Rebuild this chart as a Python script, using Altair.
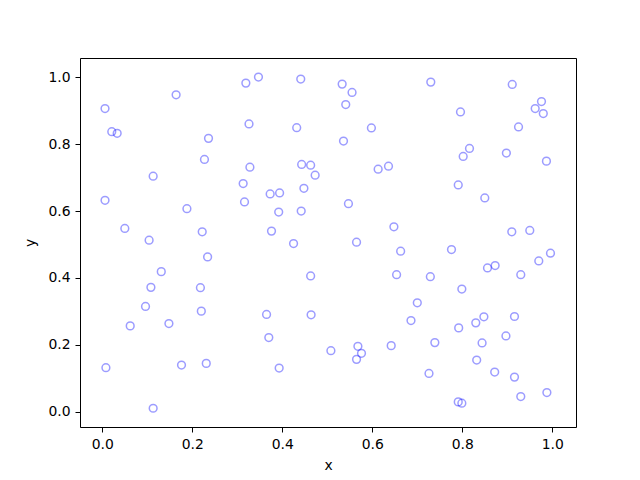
import altair as alt
import pandas as pd

xs = [0.006, 0.021, 0.033, 0.164, 0.319, 0.347, 0.441, 0.533, 0.555, 0.541,
      0.730, 0.911, 0.976, 0.962, 0.980, 0.236, 0.326, 0.432, 0.598, 0.796,
      0.925, 0.113, 0.227, 0.328, 0.313, 0.316, 0.443, 0.463, 0.473, 0.373,
      0.394, 0.006, 0.188, 0.392, 0.442, 0.448, 0.613, 0.636, 0.536, 0.802,
      0.816, 0.791, 0.850, 0.898, 0.987, 0.050, 0.104, 0.222, 0.234, 0.376,
      0.425, 0.547, 0.565, 0.648, 0.663, 0.654, 0.463, 0.131, 0.108, 0.218,
      0.096, 0.062, 0.148, 0.220, 0.365, 0.370, 0.464, 0.393, 0.231, 0.176,
      0.008, 0.113, 0.508, 0.565, 0.568, 0.576, 0.642, 0.729, 0.700, 0.686,
      0.739, 0.726, 0.776, 0.799, 0.792, 0.830, 0.856, 0.873, 0.848, 0.844,
      0.832, 0.872, 0.910, 0.950, 0.970, 0.996, 0.930, 0.916, 0.897, 0.916,
      0.930, 0.988, 0.791, 0.799]
ys = [0.906, 0.837, 0.832, 0.947, 0.982, 1.000, 0.994, 0.979, 0.954, 0.918,
      0.985, 0.978, 0.927, 0.906, 0.891, 0.817, 0.860, 0.849, 0.848, 0.896,
      0.851, 0.704, 0.754, 0.731, 0.682, 0.627, 0.739, 0.737, 0.707, 0.651,
      0.654, 0.632, 0.607, 0.597, 0.600, 0.668, 0.725, 0.734, 0.809, 0.763,
      0.787, 0.678, 0.639, 0.773, 0.749, 0.548, 0.513, 0.538, 0.463, 0.540,
      0.503, 0.622, 0.507, 0.553, 0.480, 0.410, 0.406, 0.419, 0.372, 0.371,
      0.315, 0.257, 0.264, 0.301, 0.291, 0.222, 0.290, 0.131, 0.145, 0.140,
      0.132, 0.011, 0.183, 0.157, 0.196, 0.175, 0.198, 0.404, 0.326, 0.273,
      0.207, 0.115, 0.485, 0.367, 0.251, 0.266, 0.430, 0.437, 0.284, 0.206,
      0.155, 0.119, 0.538, 0.542, 0.451, 0.474, 0.410, 0.285, 0.227, 0.104,
      0.046, 0.058, 0.030, 0.026]
tick_values = [0.0, 0.2, 0.4, 0.6, 0.8, 1.0]

df = pd.DataFrame({"x": xs, "y": ys})

FONT = "DejaVu Sans"
axis_common = dict(
    values=tick_values, format=".1f", grid=False,
    tickColor="black", tickSize=5, tickWidth=1,
    domainColor="black", domainWidth=1,
    labelFont=FONT, labelFontSize=13.9, labelColor="black", labelPadding=5,
    titleFont=FONT, titleFontSize=13.9, titleFontWeight="normal", titleColor="black",
)
frame_axis = dict(labels=False, ticks=False, grid=False, title=None,
                  domainColor="black", domainWidth=1)

xscale = alt.Scale(domain=[-0.0496, 1.0527], nice=False, zero=False)
yscale = alt.Scale(domain=[-0.045, 1.057], nice=False, zero=False)

points = alt.Chart(df).mark_point(
    shape="circle", filled=False, stroke="#0000ff", strokeOpacity=0.55,
    strokeWidth=1.5, size=60,
).encode(
    x=alt.X("x:Q", scale=xscale, axis=alt.Axis(title="x", titlePadding=8, **axis_common)),
    y=alt.Y("y:Q", scale=yscale, axis=alt.Axis(title="y", titlePadding=10, **axis_common)),
)

frame = alt.Chart(df).mark_point(opacity=0).encode(
    x=alt.X("x:Q", scale=xscale, axis=alt.Axis(orient="top", **frame_axis)),
    y=alt.Y("y:Q", scale=yscale, axis=alt.Axis(orient="right", **frame_axis)),
)

chart = alt.layer(points, frame).resolve_axis(
    x="independent", y="independent"
).properties(
    width=496, height=369,
    padding={"left": 72, "top": 50, "right": 56, "bottom": 45},
    autosize=alt.AutoSizeParams(type="none"),
).configure_view(
    strokeWidth=0,
).configure(background="white")

chart.save("out.html", embed_options={"renderer": "svg", "actions": False})
